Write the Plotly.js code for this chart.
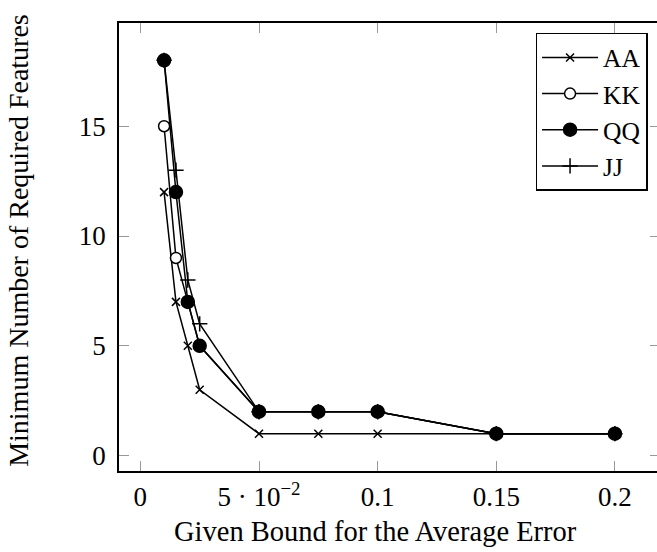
<!DOCTYPE html>
<html>
<head>
<meta charset="utf-8">
<script src="https://cdn.plot.ly/plotly-3.0.1.min.js"></script>
<style>
html,body{margin:0;padding:0;overflow:hidden;background:#fff;}
#chart{width:660px;height:552px;}
</style>
</head>
<body>
<div id="chart"></div>
<script>
// Data
const errorBounds = [0.01, 0.015, 0.02, 0.025, 0.05, 0.075, 0.1, 0.15, 0.2];
const seriesAA = [12, 7, 5, 3, 1, 1, 1, 1, 1];
const seriesKK = [15, 9, 7, 5, 2, 2, 2, 1, 1];
const seriesQQ = [18, 12, 7, 5, 2, 2, 2, 1, 1];
const seriesJJ = [18, 13, 8, 6, 2, 2, 2, 1, 1];
const xTickValues = [0, 0.05, 0.1, 0.15, 0.2];
const xTickLabels = ["0", "5 \u00b7 10<sup>\u22122</sup>", "0.1", "0.15", "0.2"];
const yTickValues = [0, 5, 10, 15];
const yTickLabels = ["0", "5", "10", "15"];

const FONT = "Liberation Serif, Times New Roman, serif";

function mk(name, y, symbol, size, fill) {
  return {
    type: "scatter", mode: "lines+markers", name: name,
    x: errorBounds, y: y,
    line: {color: "black", width: 1.5},
    marker: {symbol: symbol, size: size, color: fill,
             line: {color: "black", width: 1.5}},
    cliponaxis: false
  };
}

const traces = [
  mk("AA", seriesAA, "x-thin-open", 8, "black"),
  mk("KK", seriesKK, "circle", 11, "white"),
  mk("QQ", seriesQQ, "circle", 13, "black"),
  mk("JJ", seriesJJ, "cross-thin-open", 11, "black")
];

const axisCommon = {
  showline: true, linecolor: "black", linewidth: 1.8,
  mirror: "ticks", ticks: "inside", ticklen: 10, tickwidth: 1, tickcolor: "#999",
  showgrid: false, zeroline: false, automargin: false,
  tickfont: {family: FONT, size: 27, color: "black"}
};

const layout = {
  width: 660, height: 552,
  margin: {l: 119, r: 0, t: 23, b: 81},
  paper_bgcolor: "white", plot_bgcolor: "white",
  font: {family: FONT, color: "black"},
  showlegend: true,
  legend: {
    x: 0.977, xanchor: "right", y: 0.978, yanchor: "top",
    bgcolor: "white", bordercolor: "black", borderwidth: 1.5,
    font: {family: FONT, size: 25.5, color: "black"},
    itemwidth: 56,
    tracegroupgap: 0
  },
  xaxis: Object.assign({}, axisCommon, {
    range: [-0.009, 0.219],
    tickmode: "array", tickvals: xTickValues, ticktext: xTickLabels,
    ticklabelstandoff: 1
  }),
  yaxis: Object.assign({}, axisCommon, {
    range: [-0.7, 19.7],
    tickmode: "array", tickvals: yTickValues, ticktext: yTickLabels,
    ticklabelstandoff: 6
  }),
  annotations: [
    {text: "Given Bound for the Average Error", xref: "paper", yref: "paper",
     x: 0.475, y: -0.134, xanchor: "center", yanchor: "middle", showarrow: false,
     font: {family: FONT, size: 28.5, color: "black"}},
    {text: "Minimum Number of Required Features", xref: "paper", yref: "paper",
     x: -0.187, y: 0.5156, xanchor: "center", yanchor: "middle", showarrow: false,
     textangle: -90, font: {family: FONT, size: 28, color: "black"}}
  ]
};

Plotly.newPlot("chart", traces, layout, {displayModeBar: false, staticPlot: true});
</script>
</body>
</html>
